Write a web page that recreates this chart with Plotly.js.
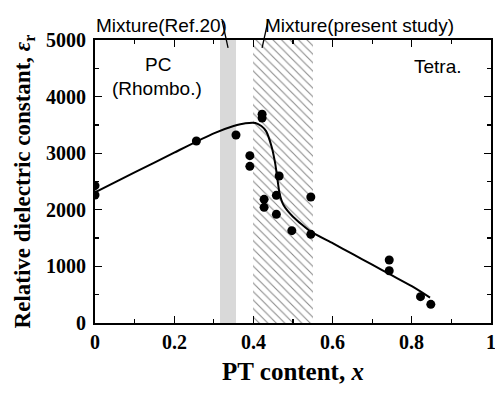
<!DOCTYPE html>
<html>
<head>
<meta charset="utf-8">
<script src="https://cdn.plot.ly/plotly-2.35.2.min.js"></script>
<style>html,body{margin:0;padding:0;background:#fff;}</style>
</head>
<body>
<div id="chart" style="width:495px;height:395px;"></div>
<script>
// Measured data points (PT content x, relative dielectric constant)
const ptX = [0.0, 0.0, 0.256, 0.356, 0.391, 0.391, 0.422, 0.422, 0.427, 0.427, 0.458, 0.458, 0.465, 0.497, 0.545, 0.545, 0.743, 0.743, 0.822, 0.848];
const epsR = [2426, 2261, 3216, 3322, 2956, 2768, 3690, 3620, 2185, 2044, 2256, 1920, 2597, 1631, 2226, 1567, 1113, 924, 465, 330];

// Guide curve
const curveX = [0.0, 0.1, 0.2, 0.3, 0.35, 0.38, 0.405, 0.42, 0.432, 0.446, 0.455, 0.461, 0.466, 0.476, 0.50, 0.545, 0.60, 0.65, 0.70, 0.75, 0.80, 0.846];
const curveY = [2310, 2660, 3010, 3350, 3480, 3530, 3535, 3480, 3390, 3115, 2820, 2526, 2290, 2085, 1878, 1613, 1410, 1220, 1030, 840, 650, 450];

// Mixture regions [start, end]
const mixtureRef = [0.315, 0.355];
const mixturePresent = [0.40, 0.55];
const yTop = 5000;

const xTicks = [0, 0.2, 0.4, 0.6, 0.8, 1];
const xTickText = ['0', '0.2', '0.4', '0.6', '0.8', '1'];
const yTicks = [0, 1000, 2000, 3000, 4000, 5000];
const yTickText = ['0', '1000', '2000', '3000', '4000', '5000'];

const traces = [
  {
    type: 'bar',
    x: [(mixtureRef[0] + mixtureRef[1]) / 2],
    y: [yTop],
    width: [mixtureRef[1] - mixtureRef[0]],
    marker: {color: '#d9d9d9', line: {width: 0}},
    hoverinfo: 'skip', showlegend: false
  },
  {
    type: 'bar',
    x: [(mixturePresent[0] + mixturePresent[1]) / 2],
    y: [yTop],
    width: [mixturePresent[1] - mixturePresent[0]],
    marker: {color: 'white', line: {width: 0},
      pattern: {shape: '\\', fgcolor: '#8a8a8a', bgcolor: 'white', size: 6, solidity: 0.18}},
    hoverinfo: 'skip', showlegend: false
  },
  {
    type: 'scatter', mode: 'lines',
    x: curveX, y: curveY,
    line: {color: 'black', width: 2, shape: 'spline', smoothing: 0.6},
    showlegend: false
  },
  {
    type: 'scatter', mode: 'markers',
    x: ptX, y: epsR,
    marker: {color: 'black', size: 9},
    showlegend: false
  }
];

const serif = 'Liberation Serif';
const annFont = {family: 'Liberation Sans', size: 19, color: 'black'};
const tickLabelFont = {family: serif, size: 20, color: 'black'};

// Tick labels placed through the axes' own scales
const tickAnnotations = [];
xTicks.forEach((v, i) => tickAnnotations.push({
  text: '<b>' + xTickText[i] + '</b>', xref: 'x', yref: 'paper', x: v, y: -0.067,
  xanchor: 'center', yanchor: 'middle', showarrow: false, font: tickLabelFont
}));
yTicks.forEach((v, i) => tickAnnotations.push({
  text: '<b>' + yTickText[i] + '</b>', xref: 'paper', yref: 'y', x: -0.018, y: v,
  xanchor: 'right', yanchor: 'middle', showarrow: false, font: tickLabelFont
}));

const layout = {
  width: 495, height: 395,
  margin: {l: 95, r: 4, t: 40, b: 72},
  paper_bgcolor: 'white', plot_bgcolor: 'white',
  barmode: 'overlay', bargap: 0,
  xaxis: {
    range: [0, 1], tickmode: 'array', tickvals: xTicks, showticklabels: false,
    ticks: 'inside', ticklen: 7, tickwidth: 1.3, tickcolor: 'black',
    minor: {dtick: 0.1, tick0: 0, ticks: 'inside', ticklen: 4, tickwidth: 1.3, tickcolor: 'black'},
    showline: true, linecolor: 'black', linewidth: 2, mirror: 'ticks',
    showgrid: false, zeroline: false,
    title: {text: '<b>PT content, <i>x</i></b>', font: {family: serif, size: 25, color: 'black'}, standoff: 38}
  },
  yaxis: {
    range: [0, 5000], tickmode: 'array', tickvals: yTicks, showticklabels: false,
    ticks: 'inside', ticklen: 7, tickwidth: 1.3, tickcolor: 'black',
    minor: {dtick: 500, tick0: 0, ticks: 'inside', ticklen: 4, tickwidth: 1.3, tickcolor: 'black'},
    showline: true, linecolor: 'black', linewidth: 2, mirror: 'ticks',
    showgrid: false, zeroline: false,
    title: {text: '<b>Relative dielectric constant, <i>ε</i><sub>r</sub></b>', font: {family: serif, size: 23, color: 'black'}, standoff: 56}
  },
  shapes: [
    {type: 'line', xref: 'x', yref: 'paper', x0: 0.321, y0: 1.068, x1: 0.336, y1: 0.972, line: {color: 'black', width: 1.3}},
    {type: 'line', xref: 'x', yref: 'paper', x0: 0.437, y0: 1.068, x1: 0.422, y1: 0.972, line: {color: 'black', width: 1.3}}
  ],
  annotations: [
    {text: 'Mixture(Ref.20)', xref: 'x', yref: 'paper', x: 0.167, y: 1.097, showarrow: false, font: annFont},
    {text: 'Mixture(present study)', xref: 'x', yref: 'paper', x: 0.667, y: 1.097, showarrow: false, font: annFont},
    {text: 'PC', xref: 'x', yref: 'y', x: 0.16, y: 4560, showarrow: false, font: annFont},
    {text: '(Rhombo.)', xref: 'x', yref: 'y', x: 0.157, y: 4140, showarrow: false, font: annFont},
    {text: 'Tetra.', xref: 'x', yref: 'y', x: 0.866, y: 4540, showarrow: false, font: annFont}
  ].concat(tickAnnotations)
};

Plotly.newPlot('chart', traces, layout, {displayModeBar: false, staticPlot: true});
</script>
</body>
</html>
